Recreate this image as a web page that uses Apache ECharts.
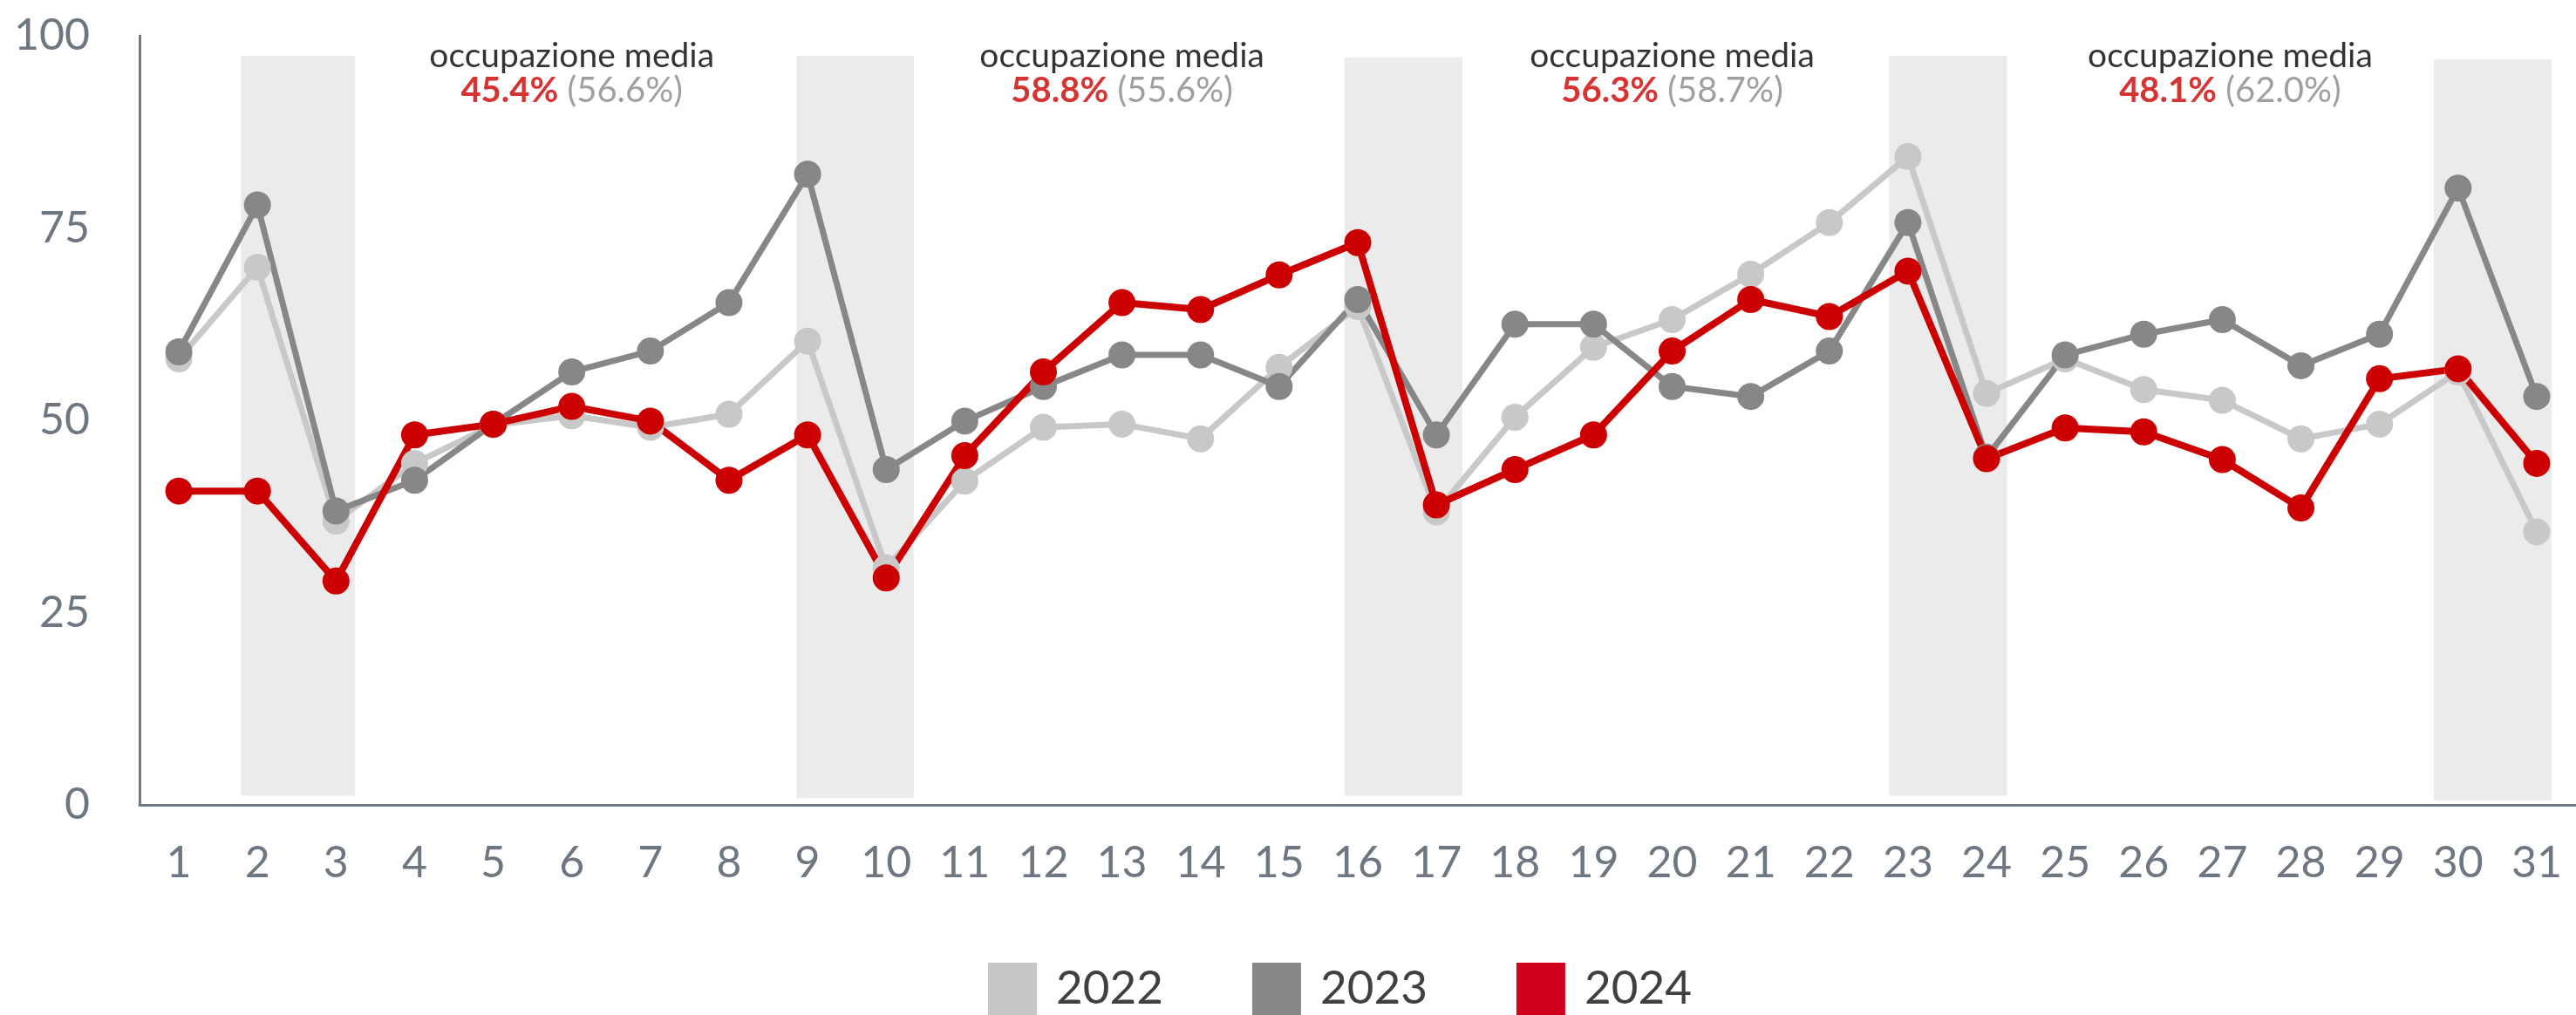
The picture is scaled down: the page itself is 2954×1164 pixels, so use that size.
<!DOCTYPE html>
<html>
<head>
<meta charset="utf-8">
<script src="https://cdn.jsdelivr.net/npm/echarts@6/dist/echarts.min.js"></script>
<style>
  html, body { margin: 0; padding: 0; background: #fff; }
  #chart { width: 2954px; height: 1164px; }
</style>
</head>
<body>
<div id="chart"></div>
<script>
const days = ['1', '2', '3', '4', '5', '6', '7', '8', '9', '10', '11', '12', '13', '14', '15', '16',
  '17', '18', '19', '20', '21', '22', '23', '24', '25', '26', '27', '28', '29', '30', '31']

const occ2022 = [58.0, 69.9, 36.9, 44.4, 49.4, 50.6, 49.1, 50.8, 60.3, 30.8, 42.1, 49.1, 49.5, 47.6, 56.9, 64.8,
  38.1, 50.4, 59.5, 63.1, 69.0, 75.7, 84.3, 53.5, 58.0, 54.0, 52.6, 47.6, 49.5, 56.3, 35.5]
const occ2023 = [58.9, 78.0, 38.2, 42.2, 49.5, 56.3, 59.0, 65.3, 82.0, 43.6, 49.9, 54.4, 58.5, 58.5, 54.4, 65.7,
  48.1, 62.5, 62.5, 54.4, 53.1, 59.0, 75.7, 45.2, 58.5, 61.2, 63.1, 57.1, 61.2, 80.2, 53.1]
const occ2024 = [40.8, 40.8, 29.1, 48.1, 49.5, 51.8, 49.9, 42.2, 48.1, 29.5, 45.4, 56.3, 65.3, 64.4, 68.9, 73.1,
  39.0, 43.6, 48.1, 59.0, 65.7, 63.5, 69.4, 45.0, 49.0, 48.5, 44.9, 38.6, 55.4, 56.7, 44.4]

// weekend bands, in day units: [from, to, bottom, top]
const weekendBands = [
  [1.79, 3.24, 1.2, 97.4],
  [8.86, 10.35, 0.85, 97.4],
  [15.83, 17.33, 1.2, 97.2],
  [22.76, 24.26, 1.2, 97.4],
  [29.69, 31.19, 0.6, 96.9]
]

// average occupancy notes per week
const noteDay = [6, 13, 20, 27.1]
const noteLevel = [95.1, 95.1, 95.1, 95.1]
const noteNow = ['45.4%', '58.8%', '56.3%', '48.1%']
const notePrev = ['(56.6%)', '(55.6%)', '(58.7%)', '(62.0%)']

const axisColor = '#717984'
const font = 'Lato'

const chart = echarts.init(document.getElementById('chart'))

function lineSeries(name, data, color, width) {
  return {
    name: name,
    type: 'line',
    data: data,
    symbol: 'circle',
    symbolSize: 31,
    lineStyle: { color: color, width: width },
    itemStyle: { color: color },
    z: 3
  }
}

const option = {
  animation: false,
  grid: { left: 160, top: 41, width: 2809, bottom: 241 },
  legend: {
    left: 1133,
    top: 1104,
    padding: 0,
    icon: 'rect',
    itemWidth: 56,
    itemHeight: 60,
    itemGap: 102,
    textStyle: { fontSize: 53, color: '#404040', fontFamily: font, padding: [0, 0, 0, 17] },
    data: [
      { name: '2022', itemStyle: { color: '#c6c6c6' } },
      { name: '2023', itemStyle: { color: '#878787' } },
      { name: '2024', itemStyle: { color: '#d0021b' } }
    ]
  },
  xAxis: [
    {
      type: 'category',
      data: days,
      boundaryGap: true,
      axisLine: { lineStyle: { color: axisColor, width: 3 } },
      axisTick: { show: false },
      axisLabel: { fontSize: 50, color: '#6e7681', fontFamily: font, margin: 42, interval: 0 }
    },
    { type: 'value', min: 0.5, max: 31.5, show: false }
  ],
  yAxis: {
    type: 'value',
    min: 0,
    max: 100,
    interval: 25,
    axisLine: { show: true, lineStyle: { color: axisColor, width: 3 } },
    axisTick: { show: false },
    splitLine: { show: false },
    axisLabel: { fontSize: 50, color: '#6e7681', fontFamily: font, margin: 57 }
  },
  series: [
    {
      name: 'note',
      type: 'scatter',
      xAxisIndex: 1,
      symbolSize: 0,
      z: 1,
      data: noteDay.map((d, i) => [d, noteLevel[i], noteNow[i], notePrev[i]]),
      label: {
        show: true,
        position: 'inside',
        align: 'center',
        formatter: p => '{t|occupazione media}\n{r|' + p.data[2] + '}{g| ' + p.data[3] + '}',
        rich: {
          t: { fontSize: 39, lineHeight: 40, color: '#000000', fontFamily: font },
          r: { fontSize: 40, lineHeight: 40, color: '#cc0000', fontWeight: 'bold', fontFamily: font },
          g: { fontSize: 40, lineHeight: 40, color: '#878787', fontFamily: font }
        }
      },
      markArea: {
        silent: true,
        itemStyle: { color: '#ebebeb' },
        data: weekendBands.map(b => [{ coord: [b[0], b[2]] }, { coord: [b[1], b[3]] }])
      }
    },
    lineSeries('2022', occ2022, '#c8c8c8', 7),
    lineSeries('2023', occ2023, '#878787', 7),
    lineSeries('2024', occ2024, '#cc0000', 8)
  ]
}

chart.setOption(option)
</script>
</body>
</html>
